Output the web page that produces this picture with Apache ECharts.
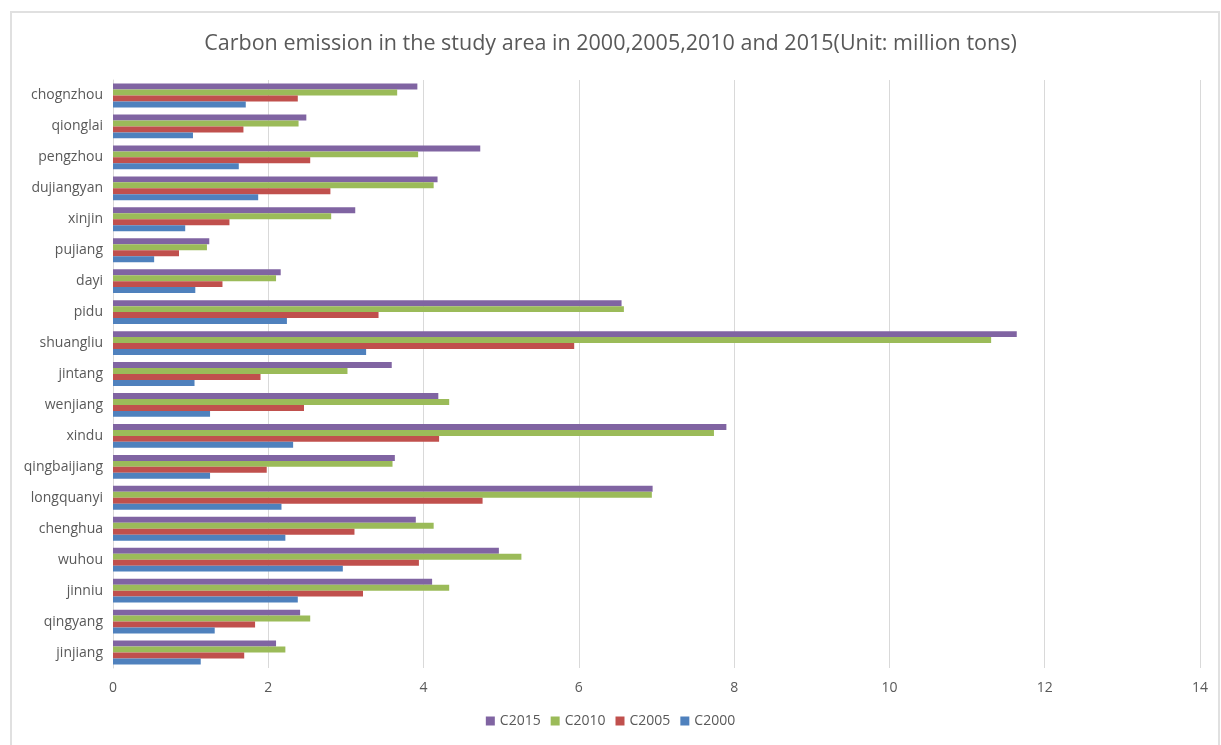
<!DOCTYPE html>
<html>
<head>
<meta charset="utf-8">
<script src="https://cdn.jsdelivr.net/npm/echarts@6/dist/echarts.min.js"></script>
<style>
  html, body { margin: 0; padding: 0; background: #fff; }
  #chart { width: 1221px; height: 745px; }
</style>
</head>
<body>
<div id="chart"></div>
<script>
// categories, bottom to top
const districts = ['jinjiang', 'qingyang', 'jinniu', 'wuhou', 'chenghua', 'longquanyi', 'qingbaijiang', 'xindu', 'wenjiang', 'jintang', 'shuangliu', 'pidu', 'dayi', 'pujiang', 'xinjin', 'dujiangyan', 'pengzhou', 'qionglai', 'chognzhou']

const c2000 = [1.13, 1.31, 2.38, 2.96, 2.22, 2.17, 1.25, 2.32, 1.25, 1.05, 3.26, 2.24, 1.06, 0.53, 0.93, 1.87, 1.62, 1.03, 1.71]
const c2005 = [1.69, 1.83, 3.22, 3.94, 3.11, 4.76, 1.98, 4.20, 2.46, 1.90, 5.94, 3.42, 1.41, 0.85, 1.50, 2.80, 2.54, 1.68, 2.38]
const c2010 = [2.22, 2.54, 4.33, 5.26, 4.13, 6.94, 3.60, 7.74, 4.33, 3.02, 11.31, 6.58, 2.10, 1.21, 2.81, 4.13, 3.93, 2.39, 3.66]
const c2015 = [2.10, 2.41, 4.11, 4.97, 3.90, 6.95, 3.63, 7.90, 4.19, 3.59, 11.64, 6.55, 2.16, 1.24, 3.12, 4.18, 4.73, 2.49, 3.92]

const xTicks = { min: 0, max: 14, interval: 2 }

const chart = echarts.init(document.getElementById('chart'))

function bar(name, data, color) {
  return {
    name,
    type: 'bar',
    data,
    barGap: '0%',
    barCategoryGap: '23%',
    itemStyle: { color },
    emphasis: { disabled: true }
  }
}

const option = {
  backgroundColor: '#fff',
  animation: false,
  textStyle: { fontFamily: 'Open Sans' },
  graphic: [{
    type: 'rect',
    shape: { x: 11, y: 12, width: 1208, height: 760 },
    style: { fill: 'none', stroke: '#e0e0e0', lineWidth: 2 },
    silent: true
  }],
  title: {
    text: 'Carbon emission in the study area in 2000,2005,2010 and 2015(Unit: million tons)',
    left: 'center',
    top: 28,
    textStyle: { color: '#595959', fontSize: 21.5, fontWeight: 'normal', fontFamily: 'Open Sans' }
  },
  legend: {
    bottom: 12,
    left: 'center',
    icon: 'rect',
    itemWidth: 9,
    itemHeight: 9,
    itemGap: 10,
    textStyle: { color: '#595959', fontSize: 14, fontFamily: 'Open Sans' }
  },
  grid: { left: 113, right: 21, top: 80, bottom: 77 },
  xAxis: {
    type: 'value',
    min: xTicks.min,
    max: xTicks.max,
    interval: xTicks.interval,
    axisLine: { show: false },
    axisTick: { show: false },
    axisLabel: { color: '#595959', fontSize: 14, margin: 13 },
    splitLine: { lineStyle: { color: '#d9d9d9', width: 1 } }
  },
  yAxis: {
    type: 'category',
    data: districts,
    axisLine: { lineStyle: { color: '#d9d9d9' } },
    axisTick: { show: false },
    axisLabel: { color: '#595959', fontSize: 14, margin: 10 }
  },
  // first series is drawn at the top of each group
  series: [
    bar('C2015', c2015, '#8064A2'),
    bar('C2010', c2010, '#9BBB59'),
    bar('C2005', c2005, '#C0504D'),
    bar('C2000', c2000, '#4F81BD')
  ]
}

chart.setOption(option)
</script>
</body>
</html>
